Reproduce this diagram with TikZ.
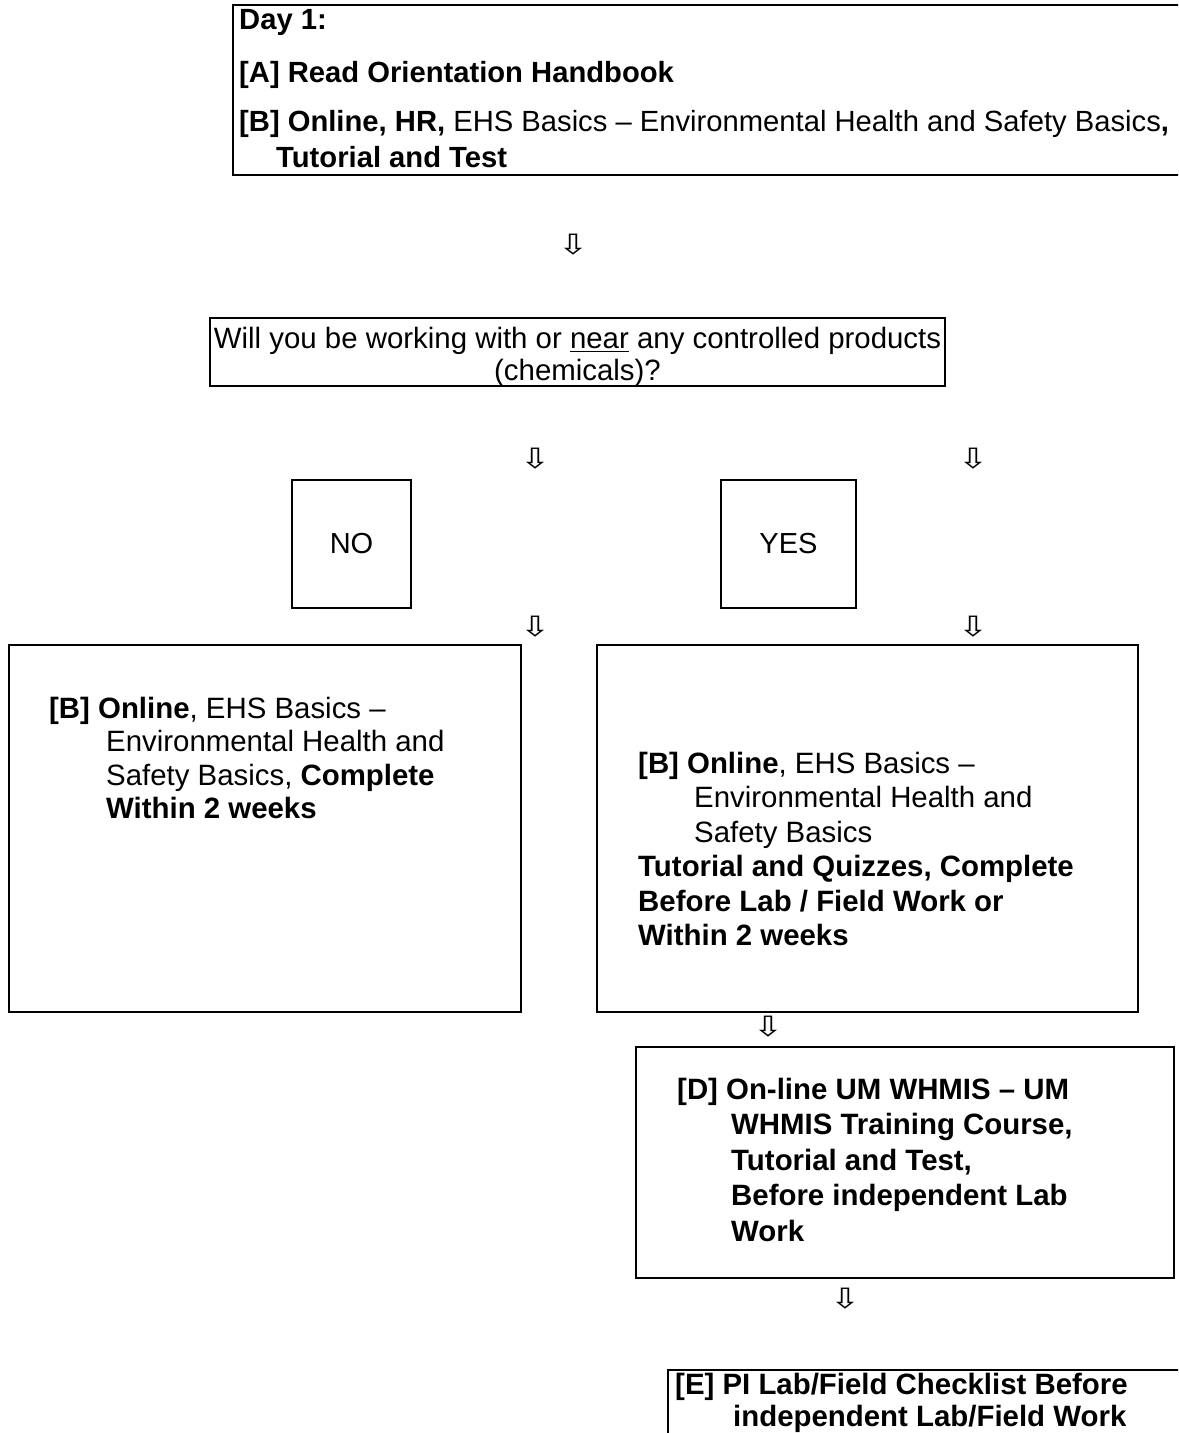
\documentclass[tikz,border=0pt]{standalone}
\usepackage{fontspec}
\setmainfont{Liberation Sans}
\newfontfamily\arrowfont{DejaVu Sans}[FakeStretch=1.3]
\usetikzlibrary{calc}

\begin{document}
\begin{tikzpicture}[x=0.5pt, y=-0.5pt, line width=1.2pt,
    txt/.style={anchor=base west, align=left, inner sep=0pt, font=\fontsize{14.7}{16.75}\selectfont},
    down/.style={inner sep=0pt, font=\arrowfont\fontsize{14}{14}\selectfont}]
    \useasboundingbox (0, 0) rectangle (1178, 1433);
    \clip (0, 0) rectangle (1178, 1433);

    % Kaesten
    \coordinate (dayTL) at (233, 5);
    \coordinate (dayBR) at (1200, 175);
    \coordinate (askTL) at (210, 318);
    \coordinate (askBR) at (945, 386);
    \coordinate (noTL) at (292, 480);
    \coordinate (noBR) at (411, 608);
    \coordinate (yesTL) at (721, 480);
    \coordinate (yesBR) at (856, 608);
    \coordinate (leftTL) at (9, 645);
    \coordinate (leftBR) at (521, 1012);
    \coordinate (rightTL) at (597, 645);
    \coordinate (rightBR) at (1138, 1012);
    \coordinate (whmisTL) at (636, 1047);
    \coordinate (whmisBR) at (1174, 1278);
    \coordinate (checkTL) at (668, 1370);
    \coordinate (checkBR) at (1200, 1460);
    \foreach \b in {day, ask, no, yes, left, right, whmis, check}
        \draw (\b TL) rectangle (\b BR);

    % Tag 1 (Basislinie der letzten Zeile)
    \node [txt, font=\fontsize{14.6}{18}\selectfont] (day1) at (238, 30) {\textbf{Day 1:}};
    \node [txt, font=\fontsize{14.6}{18}\selectfont] (stepA) at (238, 83) {\textbf{[A] Read Orientation Handbook}};
    \node [txt, font=\fontsize{14.6}{18}\selectfont] (stepB) at (238, 168) {\textbf{[B] Online, HR,} EHS Basics – Environmental Health and Safety Basics\textbf{,}\\
        \hspace*{18.5pt}\textbf{Tutorial and Test}};
    \node [down] (arr1) at (573, 245) {⇩};

    % Frage
    \node [anchor=base, align=center, inner sep=0pt, font=\fontsize{14.7}{16}\selectfont] (ask) at ($(askTL)!0.5!(askBR|-askTL) + (0, 62)$) {Will you be working with or \underline{near} any controlled products\\(chemicals)?};
    \node [down] (arr2) at (535, 459) {⇩};
    \node [down] (arr3) at (973, 459) {⇩};
    \node [font=\fontsize{14.5}{16}\selectfont] (no) at ($(noTL)!0.5!(noBR)$) {NO};
    \node [font=\fontsize{14.5}{16}\selectfont] (yes) at ($(yesTL)!0.5!(yesBR)$) {YES};
    \node [down] (arr4) at (535, 627) {⇩};
    \node [down] (arr5) at (973, 627) {⇩};

    % NEIN-Zweig
    \node [txt] (noB) at (48, 818.5) {\textbf{[B] Online}, EHS Basics –\\
        \hspace*{28.5pt}Environmental Health and\\
        \hspace*{28.5pt}Safety Basics, \textbf{Complete}\\
        \hspace*{28.5pt}\textbf{Within 2 weeks}};

    % JA-Zweig
    \node [txt, font=\fontsize{14.7}{17.25}\selectfont] (yesB) at (637, 945.5) {\textbf{[B] Online}, EHS Basics –\\
        \hspace*{28pt}Environmental Health and\\
        \hspace*{28pt}Safety Basics\\
        \textbf{Tutorial and Quizzes, Complete}\\
        \textbf{Before Lab / Field Work or}\\
        \textbf{Within 2 weeks}};
    \node [down] (arr6) at (768, 1027) {⇩};
    \node [txt, font=\fontsize{14.7}{17.75}\selectfont] (whmis) at (676, 1241) {\textbf{[D] On-line UM WHMIS – UM}\\
        \hspace*{27pt}\textbf{WHMIS Training Course,}\\
        \hspace*{27pt}\textbf{Tutorial and Test,}\\
        \hspace*{27pt}\textbf{Before independent Lab}\\
        \hspace*{27pt}\textbf{Work}};
    \node [down] (arr7) at (845, 1299) {⇩};
    \node [txt, font=\fontsize{14.7}{16}\selectfont] (check) at (674, 1426) {\textbf{[E] PI Lab/Field Checklist Before}\\
        \hspace*{29pt}\textbf{independent Lab/Field Work}};
\end{tikzpicture}
\end{document}
